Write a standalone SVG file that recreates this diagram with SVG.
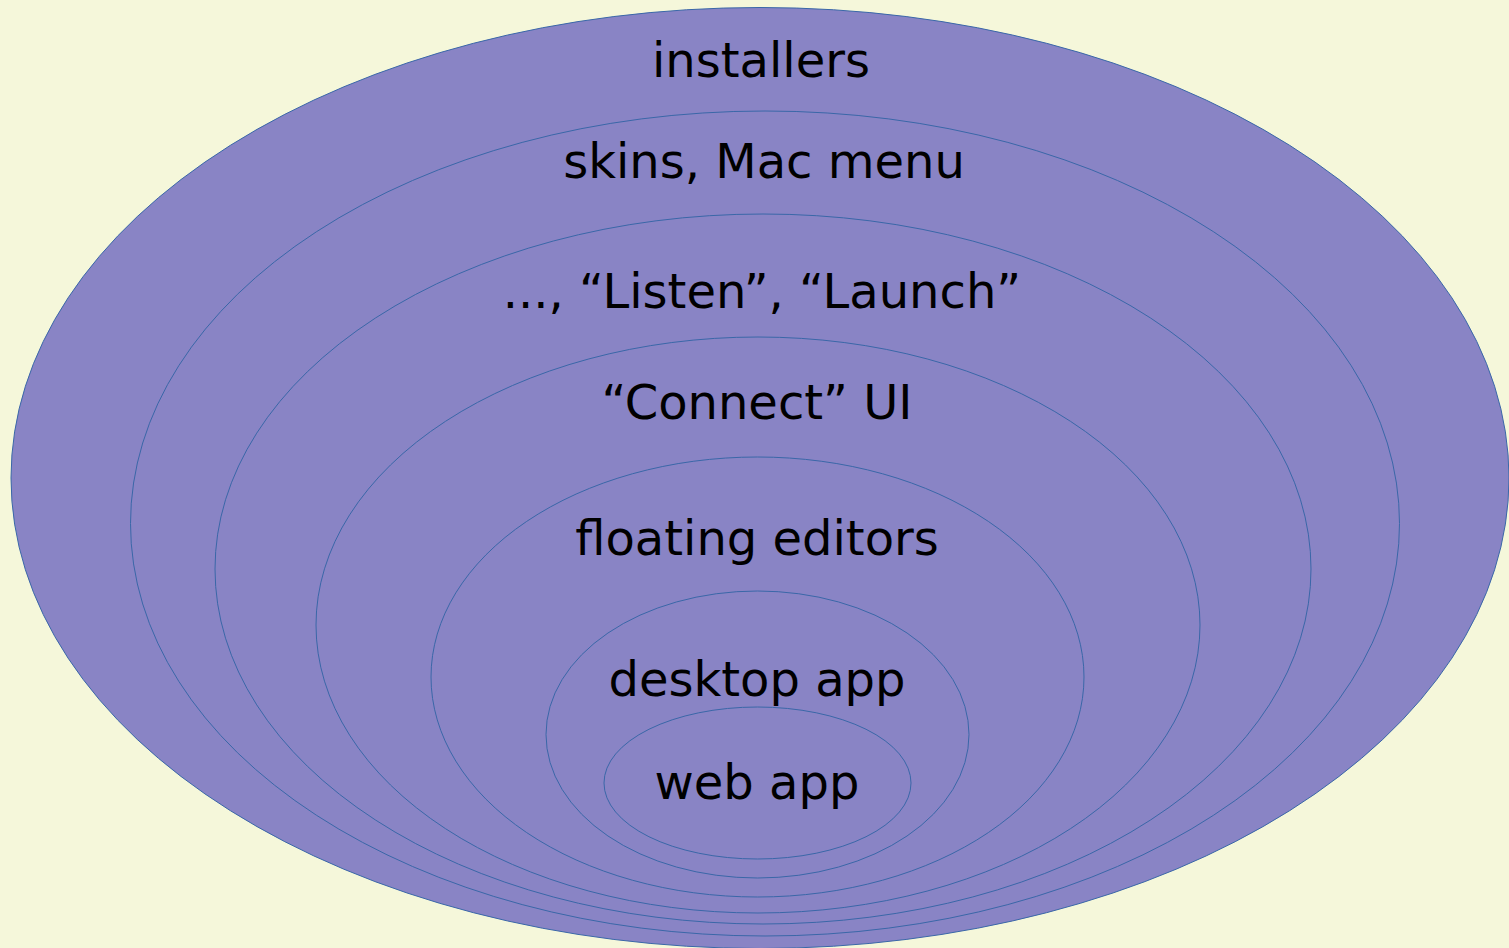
<svg xmlns="http://www.w3.org/2000/svg" width="1509" height="948" viewBox="0 0 1509 948">
<style>
.e{fill:#8984c5;stroke:#3a67a8;stroke-width:1}
.t{font-family:"DejaVu Sans",sans-serif;font-size:48px;fill:#000;text-anchor:middle}
</style>
<rect width="1509" height="948" fill="#f5f7da"/>
<g id="installers"><ellipse class="e" cx="760" cy="478" rx="749" ry="470.5"/><text class="t" x="761" y="77">installers</text></g>
<g id="skins"><ellipse class="e" cx="765" cy="523.5" rx="634.5" ry="412.5"/><text class="t" x="764" y="178">skins, Mac menu</text></g>
<g id="listen"><ellipse class="e" cx="763" cy="569" rx="548" ry="355"/><text class="t" x="762" y="308">..., “Listen”, “Launch”</text></g>
<g id="connect"><ellipse class="e" cx="758" cy="625" rx="442" ry="288"/><text class="t" x="757" y="419">“Connect” UI</text></g>
<g id="floating"><ellipse class="e" cx="757.5" cy="677" rx="326.5" ry="220"/><text class="t" x="757" y="555">floating editors</text></g>
<g id="desktop"><ellipse class="e" cx="757.5" cy="734.5" rx="211.5" ry="143.5"/><text class="t" x="757" y="696">desktop app</text></g>
<g id="web"><ellipse class="e" cx="757.5" cy="783" rx="153.5" ry="76"/><text class="t" x="757" y="799">web app</text></g>
<g id="connectors"/>
</svg>
